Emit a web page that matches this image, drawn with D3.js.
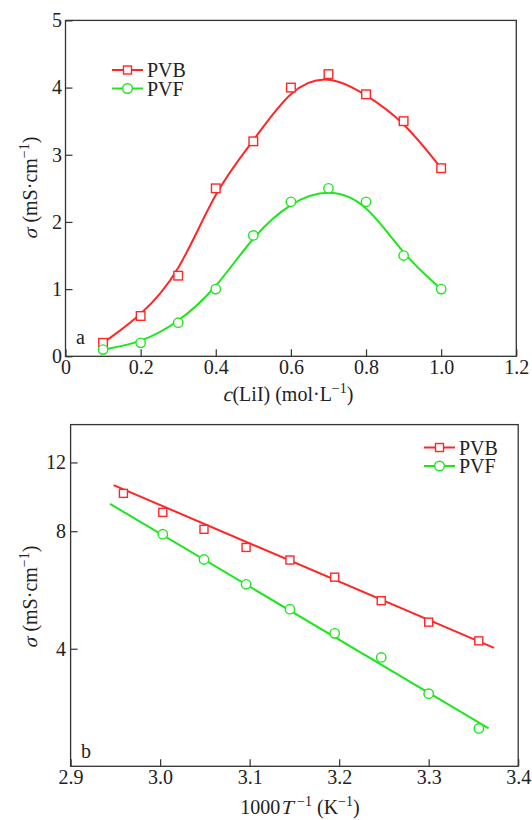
<!DOCTYPE html>
<html>
<head>
<meta charset="utf-8">
<script src="https://cdn.jsdelivr.net/npm/d3@7"></script>
<style>
  body { margin: 0; background: #fff; }
  svg { display: block; }
</style>
</head>
<body>
<svg id="chart" width="532" height="820"></svg>
<script>
// panel a: conductivity vs LiI concentration
var concX = [0.1, 0.2, 0.3, 0.4, 0.5, 0.6, 0.7, 0.8, 0.9, 1.0];
var pvbA = [0.2, 0.6, 1.2, 2.5, 3.2, 4.0, 4.2, 3.9, 3.5, 2.8];
var pvfA = [0.1, 0.2, 0.5, 1.0, 1.8, 2.3, 2.5, 2.3, 1.5, 1.0];
var ticksXA = [0, 0.2, 0.4, 0.6, 0.8, 1.0, 1.2];
var ticksYA = [0, 1, 2, 3, 4, 5];

// panel b: conductivity vs 1000/T (log y)
var invT = [2.959, 3.003, 3.049, 3.096, 3.145, 3.195, 3.247, 3.300, 3.356];
var pvbB = [10.0, 8.94, 8.09, 7.27, 6.75, 6.10, 5.31, 4.68, 4.19];
var invTF = [3.003, 3.049, 3.096, 3.145, 3.195, 3.247, 3.300, 3.356];
var pvfB = [7.86, 6.77, 5.85, 5.05, 4.38, 3.80, 3.07, 2.50];
// fitted lines, endpoints
var fitXPVB = [2.948, 3.373];
var fitPVB = [10.5, 4.02];
var fitXPVF = [2.944, 3.367];
var fitPVF = [9.4, 2.5];
var ticksXB = [2.9, 3.0, 3.1, 3.2, 3.3, 3.4];
var ticksYB = [4, 8, 12];

var red = "#ff2626";
var green = "#1ee61e";
var serif = "'Liberation Serif'";

var svg = d3.select("#chart");
svg.append("rect").attr("width", 532).attr("height", 820).attr("fill", "#fff");

function txt(sel, size) {
  return sel.style("font-family", serif).style("font-size", size + "px").style("fill", "#222");
}

function styleAxis(g) {
  g.attr("font-family", null).attr("font-size", null);
  g.select(".domain").remove();
  g.selectAll(".tick line").attr("stroke", "#333").attr("stroke-width", 1.2);
  g.selectAll(".tick text").attr("fill", null).call(txt, 20);
}

// title built from pieces; slanted pieces are skewed, superscripts raised
function title(x, y, angle, parts, size) {
  var outer = svg.append("g").attr("transform", "translate(" + x + "," + y + ") rotate(" + angle + ")");
  var inner = outer.append("g");
  var cursor = 0;
  parts.forEach(function (p) {
    var s = p.sup ? Math.round(size * 0.68) : size;
    var dy = p.sup ? -size * 0.4 : 0;
    var t = inner.append("text")
      .attr("transform", "translate(" + cursor + "," + dy + ")" + (p.i ? " skewX(-14)" : ""))
      .call(txt, s)
      .text(p.t);
    cursor += t.node().getComputedTextLength() + (p.i ? 1 : 0);
  });
  inner.attr("transform", "translate(" + (-cursor / 2) + ",0)");
}

function frame(x0, y0, x1, y1) {
  svg.append("rect")
    .attr("x", x0).attr("y", y0)
    .attr("width", x1 - x0).attr("height", y1 - y0)
    .attr("fill", "none").attr("stroke", "#333").attr("stroke-width", 1.3);
}

function legend(x, y, items) {
  items.forEach(function (it, i) {
    var g = svg.append("g").attr("transform", "translate(" + x + "," + (y + i * 18.5) + ")");
    g.append("line").attr("x1", 0).attr("x2", 31).attr("stroke", it.color).attr("stroke-width", 2);
    if (it.shape == "sq") {
      g.append("rect").attr("x", 11.5).attr("y", -4).attr("width", 8).attr("height", 8)
        .attr("fill", "#fff").attr("stroke", it.color).attr("stroke-width", 1.4);
    } else {
      g.append("circle").attr("cx", 15.5).attr("r", 4.8)
        .attr("fill", "#fff").attr("stroke", it.color).attr("stroke-width", 1.4);
    }
    g.append("text").attr("x", 35).attr("y", 7)
      .call(txt, 20)
      .text(it.name);
  });
}

function squares(xs, ys, x, y, color, s) {
  svg.append("g").selectAll("rect")
    .data(xs)
    .enter()
    .append("rect")
    .attr("x", function (d) { return x(d) - s / 2; })
    .attr("y", function (d, i) { return y(ys[i]) - s / 2; })
    .attr("width", s).attr("height", s)
    .attr("fill", "#fff").attr("stroke", color).attr("stroke-width", 1.4);
}

function circles(xs, ys, x, y, color, r) {
  svg.append("g").selectAll("circle")
    .data(xs)
    .enter()
    .append("circle")
    .attr("cx", function (d) { return x(d); })
    .attr("cy", function (d, i) { return y(ys[i]); })
    .attr("r", r)
    .attr("fill", "#fff").attr("stroke", color).attr("stroke-width", 1.4);
}

// ---------- panel a ----------
var xA = d3.scaleLinear().domain([0, 1.2]).range([65.5, 516.3]);
var yA = d3.scaleLinear().domain([0, 5]).range([356.3, 20.4]);

svg.append("g")
  .attr("transform", "translate(0,356.3)")
  .call(d3.axisBottom(xA).tickValues(ticksXA).tickSizeInner(-7).tickSizeOuter(0).tickPadding(3)
    .tickFormat(function (d) { return d == 0 ? "0" : d.toFixed(1); }))
  .call(styleAxis);

svg.append("g")
  .attr("transform", "translate(65.5,0)")
  .call(d3.axisLeft(yA).tickValues(ticksYA).tickSizeInner(-7).tickSizeOuter(0).tickPadding(3.5)
    .tickFormat(d3.format("d")))
  .call(styleAxis);

var lineA = d3.line()
  .x(function (d) { return xA(d[0]); })
  .y(function (d) { return yA(d[1]); })
  .curve(d3.curveBasis);

svg.append("path").datum(d3.zip(concX, pvbA)).attr("d", lineA)
  .attr("fill", "none").attr("stroke", red).attr("stroke-width", 2);
svg.append("path").datum(d3.zip(concX, pvfA)).attr("d", lineA)
  .attr("fill", "none").attr("stroke", green).attr("stroke-width", 2);

squares(concX, pvbA, xA, yA, red, 8.6);
circles(concX, pvfA, xA, yA, green, 4.7);

frame(65.5, 20.4, 516.3, 356.3);

legend(112, 70, [{ name: "PVB", color: red, shape: "sq" }, { name: "PVF", color: green, shape: "ci" }]);

svg.append("text").attr("x", 76).attr("y", 344)
  .call(txt, 20).text("a");

title(288, 401, 0, [{ t: "c", i: true }, { t: "(LiI)\u00a0(mol·L" }, { t: "−1", sup: true }, { t: ")" }], 20);
title(37, 188, -90, [{ t: "σ", i: true }, { t: "\u00a0(mS·cm" }, { t: "−1", sup: true }, { t: ")" }], 20);

// ---------- panel b ----------
var xB = d3.scaleLinear().domain([2.9, 3.4]).range([70.6, 518.2]);
var yB = d3.scaleLog().domain([2, 15]).range([766.3, 424.6]);

svg.append("g")
  .attr("transform", "translate(0,766.3)")
  .call(d3.axisBottom(xB).tickValues(ticksXB).tickSizeInner(-7).tickSizeOuter(0).tickPadding(4)
    .tickFormat(d3.format(".1f")))
  .call(styleAxis);

svg.append("g")
  .attr("transform", "translate(70.6,0)")
  .call(d3.axisLeft(yB).tickValues(ticksYB).tickSizeInner(-7).tickSizeOuter(0).tickPadding(4.5)
    .tickFormat(d3.format("d")))
  .call(styleAxis);

var lineB = d3.line()
  .x(function (d) { return xB(d[0]); })
  .y(function (d) { return yB(d[1]); });

svg.append("path").datum(d3.zip(fitXPVB, fitPVB)).attr("d", lineB)
  .attr("fill", "none").attr("stroke", red).attr("stroke-width", 2);
svg.append("path").datum(d3.zip(fitXPVF, fitPVF)).attr("d", lineB)
  .attr("fill", "none").attr("stroke", green).attr("stroke-width", 2);

squares(invT, pvbB, xB, yB, red, 8);
circles(invTF, pvfB, xB, yB, green, 4.7);

frame(70.6, 424.6, 518.2, 766.3);

legend(424, 447.5, [{ name: "PVB", color: red, shape: "sq" }, { name: "PVF", color: green, shape: "ci" }]);

svg.append("text").attr("x", 81).attr("y", 758)
  .call(txt, 20).text("b");

title(300, 814, 0, [{ t: "1000" }, { t: "T", i: true }, { t: "\u00a0−1", sup: true }, { t: "\u00a0(K" },
  { t: "−1", sup: true }, { t: ")" }], 20);
title(37, 597, -90, [{ t: "σ", i: true }, { t: "\u00a0(mS·cm" }, { t: "−1", sup: true }, { t: ")" }], 20);
</script>
</body>
</html>
